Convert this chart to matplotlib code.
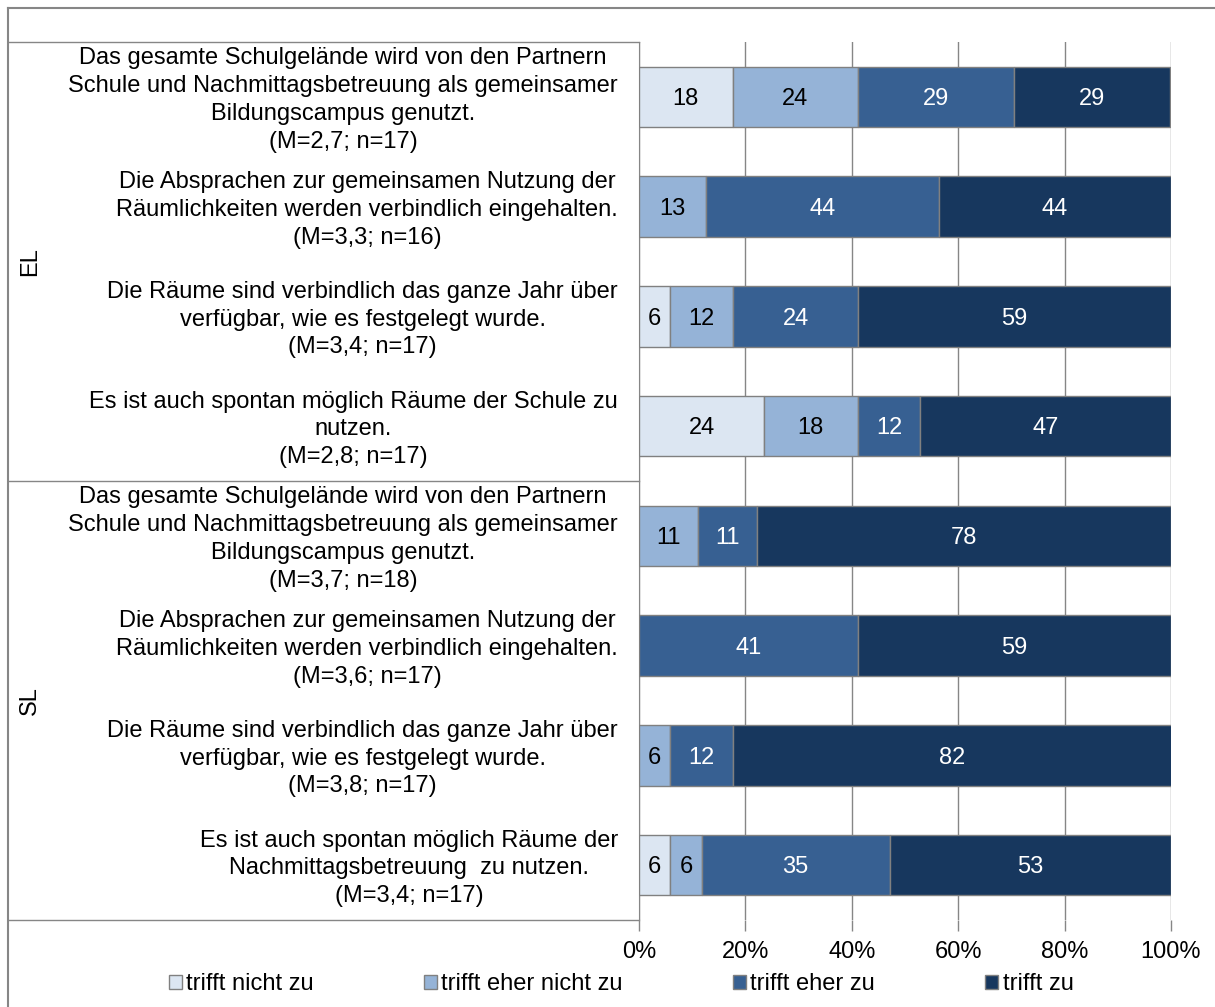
import numpy as np
import matplotlib.pyplot as plt
from matplotlib.transforms import blended_transform_factory
from matplotlib.lines import Line2D

plt.rcParams['font.family'] = ['Liberation Sans', 'DejaVu Sans']

# Daten (Prozent, Reihenfolge von oben nach unten)
items = [
    "Das gesamte Schulgelände wird von den Partnern\nSchule und Nachmittagsbetreuung als gemeinsamer\nBildungscampus genutzt.\n(M=2,7; n=17)",
    "Die Absprachen zur gemeinsamen Nutzung der\nRäumlichkeiten werden verbindlich eingehalten.\n(M=3,3; n=16)",
    "Die Räume sind verbindlich das ganze Jahr über\nverfügbar, wie es festgelegt wurde.\n(M=3,4; n=17)",
    "Es ist auch spontan möglich Räume der Schule zu\nnutzen.\n(M=2,8; n=17)",
    "Das gesamte Schulgelände wird von den Partnern\nSchule und Nachmittagsbetreuung als gemeinsamer\nBildungscampus genutzt.\n(M=3,7; n=18)",
    "Die Absprachen zur gemeinsamen Nutzung der\nRäumlichkeiten werden verbindlich eingehalten.\n(M=3,6; n=17)",
    "Die Räume sind verbindlich das ganze Jahr über\nverfügbar, wie es festgelegt wurde.\n(M=3,8; n=17)",
    "Es ist auch spontan möglich Räume der\nNachmittagsbetreuung  zu nutzen.\n(M=3,4; n=17)",
]
groups = ["EL", "SL"]
series = ["trifft nicht zu", "trifft eher nicht zu", "trifft eher zu", "trifft zu"]
nicht_zu      = [17.6, 0.0, 5.9, 23.5, 0.0, 0.0, 0.0, 5.9]
eher_nicht_zu = [23.5, 12.6, 11.8, 17.6, 11.1, 0.0, 5.9, 5.9]
eher_zu       = [29.4, 43.7, 23.5, 11.8, 11.1, 41.2, 11.8, 35.3]
zu            = [29.4, 43.7, 58.8, 47.1, 77.8, 58.8, 82.4, 52.9]

colors = ['#DCE6F2', '#95B3D7', '#376092', '#17375E']
text_colors = ['black', 'black', 'white', 'white']
grey = '#868686'
fs = 17

W, H = 1215, 1007
fig = plt.figure(figsize=(W / 100, H / 100), dpi=100)
ax = fig.add_axes([639 / W, 1 - 920 / H, (1171 - 639) / W, (920 - 42) / H])

y = np.arange(len(items))
left = np.zeros(len(items))
handles = []
for vals, col, tc, name in zip([nicht_zu, eher_nicht_zu, eher_zu, zu], colors, text_colors, series):
    vals = np.array(vals, dtype=float)
    bars = ax.barh(y, vals, left=left, height=0.55, color=col, edgecolor='#808080',
                   linewidth=1, label=name, zorder=3)
    handles.append(bars)
    for yi, l, v in zip(y, left, vals):
        if v > 0:
            ax.text(l + v / 2, yi + 0.02, f"{v:.0f}", ha='center', va='center',
                    color=tc, fontsize=fs, zorder=4)
    left += vals

ax.set_xlim(0, 100)
ax.set_ylim(len(items) - 0.5, -0.5)
ax.set_xticks(np.arange(0, 101, 20))
ax.set_xticklabels([f"{t}%" for t in range(0, 101, 20)], fontsize=fs)
ax.set_yticks([])
ax.xaxis.grid(True, color=grey, linewidth=1, zorder=0)
ax.tick_params(axis='x', length=8, color=grey, width=1, pad=7)
for s in ['top', 'right', 'bottom']:
    ax.spines[s].set_visible(False)
ax.spines['left'].set_color(grey)

# Beschriftungen der Kategorien (Block rechtsbündig, Zeilen zentriert)
tr = blended_transform_factory(ax.transAxes, ax.transData)
for yi, lab in zip(y, items):
    ax.text((618 - 639) / 532, yi + 0.03, lab, transform=tr, ha='right',
            multialignment='center', va='center', fontsize=fs, linespacing=1.34)

# Gruppenlinien und Gruppenlabels
x0 = (8 - 639) / 532
for yy in [-0.5, 3.5, 7.5]:
    ax.plot([x0, 0], [yy, yy], transform=tr, color=grey, linewidth=1, clip_on=False)
for gi, g in enumerate(groups):
    ax.text((30 - 639) / 532, 1.5 + 4 * gi, g, transform=tr, rotation=90,
            ha='center', va='center', fontsize=fs)

# Rahmen
fig.add_artist(Line2D([8 / W, 8 / W], [0, 1 - 8 / H], transform=fig.transFigure, color=grey, linewidth=1.5))
fig.add_artist(Line2D([8 / W, 1], [1 - 8 / H, 1 - 8 / H], transform=fig.transFigure, color=grey, linewidth=1.5))

# Legende
fig.legend(handles=handles, loc='center', bbox_to_anchor=(621 / W, 1 - 984 / H), ncol=4,
           frameon=False, fontsize=fs, handlelength=0.55, handleheight=0.55,
           handletextpad=0.2, columnspacing=4.65)

fig.savefig('out.png', dpi=100)
